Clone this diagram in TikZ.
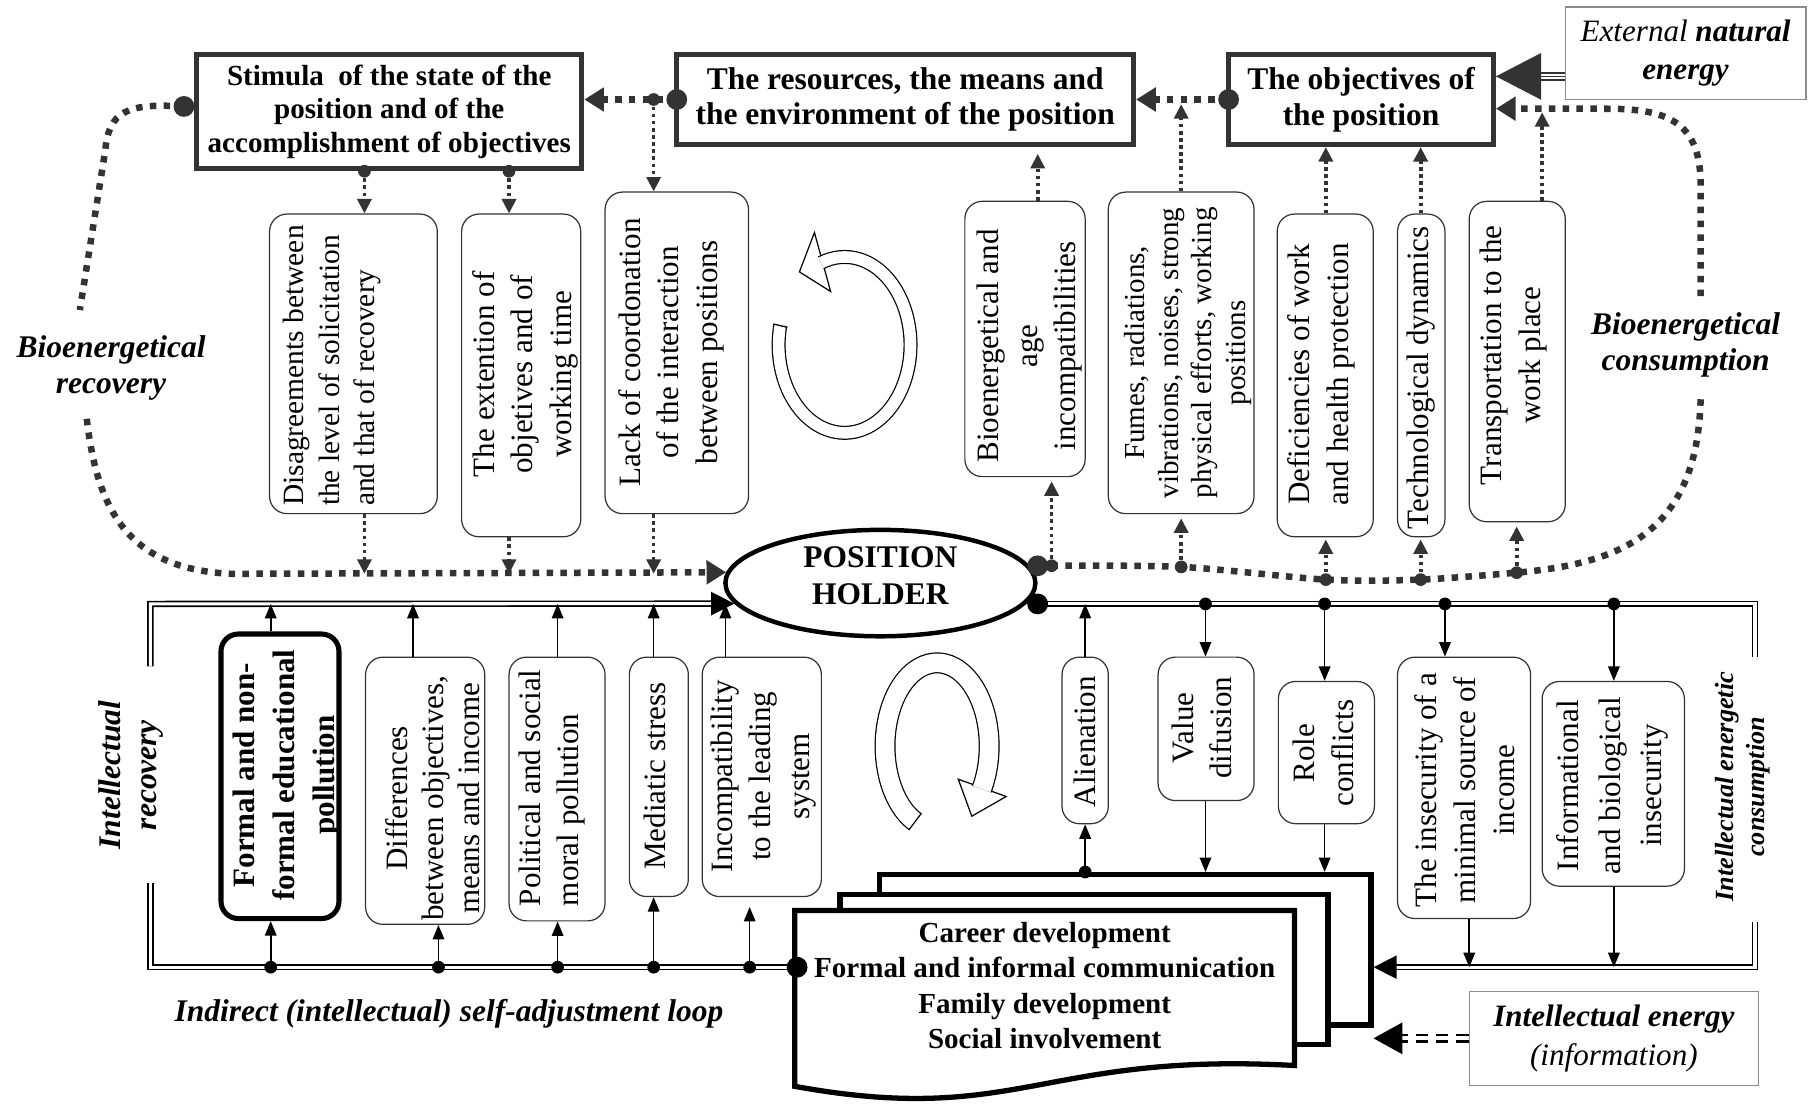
\documentclass[tikz,border=0pt]{standalone}
\usepackage{fontspec}
\setmainfont{Liberation Serif}
\usepackage{tikz}
\usepackage{xcolor}
\usetikzlibrary{calc, shapes.geometric, arrows.meta}

\definecolor{dgray}{HTML}{333333}
\definecolor{lgray}{HTML}{8C8C8C}

\begin{document}
\begin{tikzpicture}[x=0.02cm, y=-0.02cm,
    every node/.style={inner sep=0pt, font=\fontsize{15.3}{19}\selectfont},
    topbox/.style={
      draw=dgray,
      line width=2.4pt,
      align=center,
      font=\fontsize{15.5}{17.6}\selectfont\bfseries
    },
    vbox/.style={
      draw=dgray,
      line width=0.6pt,
      rounded corners=0.3cm
    },
    vtext/.style={rotate=90, align=center},
    lab/.style={align=center, font=\fontsize{15.5}{17.6}\selectfont\bfseries\itshape},
    bioline/.style={dgray, line width=3.2pt, dash pattern=on 3.2pt off 3.6pt},
    bioarrow/.style={bioline, -{Triangle[length=0.34cm, width=0.4cm]}},
    darrow/.style={dgray, line width=1.8pt, dash pattern=on 1.8pt off 1.7pt,
      -{Triangle[length=0.25cm, width=0.24cm]}},
    sarrow/.style={line width=0.8pt, -{Triangle[length=0.25cm, width=0.2cm]}},
    dline/.style={line width=0.8pt, double distance=1.5pt},
    bigarrow/.style={-{Triangle[length=0.4cm, width=0.4cm]}},
    docbox/.style={draw, fill=white, line width=2.6pt},
    ring/.style={line width=0.6pt, double distance=#1}]
  \useasboundingbox (0,0) rectangle (1568,954);

  \node[topbox, minimum width=6.66cm, minimum height=1.98cm,
    font=\fontsize{14.3}{16.4}\selectfont\bfseries] (stim) at (336.5,96.5)
    {Stimula~ of the state of the\\position and of the\\accomplishment of objectives};
  \node[topbox, minimum width=7.9cm, minimum height=1.56cm] (res) at (782.5,86)
    {The resources, the means and\\the environment of the position};
  \node[topbox, minimum width=4.58cm, minimum height=1.56cm] (obj) at (1176.5,86)
    {The objectives of\\the position};
  \node[draw=lgray, line width=0.6pt, minimum width=4.16cm, minimum height=1.6cm,
    align=center] (ext) at (1457,46)
    {\textit{External} \textbf{\textit{natural}}\\\textbf{\textit{energy}}};

  \node[vbox, minimum width=2.9cm, minimum height=5.18cm] (dis) at (305.5,314.5) {};
  \node[vtext, align=left, font=\fontsize{14.5}{17.4}\selectfont] (dist) at (287,316)
    {Disagreements between\\the level of solicitation\\and that of recovery};
  \node[vbox, minimum width=2.06cm, minimum height=5.58cm] (exto) at (450.5,324.5) {};
  \node[vtext] (extot) at (454,323.5) {The extention of\\objetives and of\\working time};
  \node[vbox, minimum width=2.48cm, minimum height=5.56cm] (lack) at (585,305) {};
  \node[vtext] (lackt) at (580,304.5)
    {Lack of coordonation\\of the interaction\\between positions};
  \node[vbox, minimum width=2.08cm, minimum height=4.76cm] (age) at (886,293) {};
  \node[vtext] (aget) at (890,299) {Bioenergetical and\\age\\incompatibilities};
  \node[vtext, font=\fontsize{14.3}{16.5}\selectfont] (fumt) at (1027,305)
    {Fumes, radiations,\\vibrations, noises, strong\\physical efforts, working\\positions};
  \node[vbox, minimum width=2.52cm, minimum height=5.56cm] (fum) at (1021,305) {};
  \node[vbox, minimum width=1.66cm, minimum height=5.58cm] (def) at (1145.5,324.5) {};
  \node[vtext] (deft) at (1142,323.5) {Deficiencies of work\\and health protection};
  \node[vbox, minimum width=0.82cm, minimum height=5.58cm] (tec) at (1228.5,324.5) {};
  \node[vtext] (tect) at (1228,326.5) {Technological dynamics};
  \node[vbox, minimum width=1.66cm, minimum height=5.54cm] (tra) at (1311.5,312.5) {};
  \node[vtext] (trat) at (1308,307) {Transportation to the\\work place};

  \node[ellipse, draw, line width=2.2pt, minimum width=5.36cm, minimum height=1.84cm]
    (hold) at (761,504) {};
  \node[align=center, font=\fontsize{15.5}{18.2}\selectfont\bfseries] (holdt)
    at (761,498) {POSITION\\HOLDER};

  \node[vtext, font=\fontsize{15.3}{19.8}\selectfont\bfseries] (lft) at (248,670)
    {Formal and non-\\formal educational\\pollution};
  \node[vbox, draw=black, line width=2.5pt, minimum width=2.04cm, minimum height=4.92cm]
    (lf) at (242,671) {};
  \node[vbox, minimum width=2.06cm, minimum height=4.62cm] (dif) at (367.5,683.5) {};
  \node[vtext, font=\fontsize{15.3}{17.6}\selectfont] (dift) at (374,690)
    {Differences\\between objectives,\\means and income};
  \node[vbox, minimum width=1.66cm, minimum height=4.56cm] (pol) at (481.5,682) {};
  \node[vtext, align=left] (polt) at (477,681) {Political and social\\moral pollution};
  \node[vbox, minimum width=1.02cm, minimum height=4.14cm] (med) at (569.5,671.5) {};
  \node[vtext] (medt) at (566,671) {Mediatic stress};
  \node[vbox, minimum width=2.06cm, minimum height=4.14cm] (inc) at (658.5,671.5) {};
  \node[vtext] (inct) at (660,671) {Incompatibility\\to the leading\\system};
  \node[vbox, minimum width=0.8cm, minimum height=2.88cm] (ali) at (938,640) {};
  \node[vtext] (alit) at (937.5,641) {Alienation};
  \node[vbox, minimum width=1.66cm, minimum height=2.48cm] (val) at (1042.5,630) {};
  \node[vtext] (valt) at (1039,629) {Value\\difusion};
  \node[vbox, minimum width=1.66cm, minimum height=2.46cm] (rol) at (1146.5,650.5) {};
  \node[vtext] (rolt) at (1144,651) {Role\\conflicts};
  \node[vbox, minimum width=2.3cm, minimum height=4.52cm] (ins) at (1265.5,681) {};
  \node[vtext] (inst) at (1266,683) {The insecurity of a\\minimal source of\\income};
  \node[vbox, minimum width=2.46cm, minimum height=3.54cm] (inf) at (1394.5,677.5) {};
  \node[vtext, font=\fontsize{15.3}{20.5}\selectfont] (inft) at (1394,679)
    {Informational\\and biological\\insecurity};

  \node[lab] (brec) at (96,318) {Bioenergetical\\recovery};
  \node[lab] (bcons) at (1457,298) {Bioenergetical\\consumption};
  \node[lab, rotate=90] (irec) at (113,670) {Intellectual\\recovery};
  \node[lab, rotate=90, font=\fontsize{12.9}{15.3}\selectfont\bfseries\itshape] (icons)
    at (1506,680) {Intellectual energetic\\consumption};
  \node[lab] (loop) at (388,876) {Indirect (intellectual) self-adjustment loop};
  \node[draw=lgray, line width=0.6pt, minimum width=5cm, minimum height=1.62cm,
    align=center] (ien) at (1395,897.5)
    {\textbf{\textit{Intellectual energy}}\\\textit{(information)}};

  \coordinate (sd) at (159,92);
  \coordinate (rd) at (585,86);
  \coordinate (od) at (1062,86);
  \coordinate (r0) at (565,86);
  \coordinate (s1) at (315,148);
  \coordinate (s2) at (440,148);
  \coordinate (bio) at (0,496);
  \coordinate (ea) at (0,66);
  \coordinate (t4) at (897,133);
  \coordinate (t5) at (1021,90);
  \coordinate (t8) at (1333,97);
  \coordinate (hd) at ([yshift=8.5pt]hold.east);
  \coordinate (d4) at (909,489);
  \coordinate (d5) at (1021,490);
  \coordinate (d6) at (1146,501);
  \coordinate (d7) at (1228,501);
  \coordinate (d8) at (1311,495);
  \coordinate (bl1) at (69,268);
  \coordinate (bl2) at (75,362);
  \coordinate (bc1) at (1470,256);
  \coordinate (bc2) at (1470,345);
  \coordinate (tl) at (130,522);
  \coordinate (tlg) at (130,576);
  \coordinate (bl) at (130,836);
  \coordinate (blg) at (130,763);
  \coordinate (tr) at (1517,522);
  \coordinate (trg) at (1517,568);
  \coordinate (br) at (1517,836);
  \coordinate (brg) at (1517,797);
  \coordinate (docl) at (689,836);
  \coordinate (hr) at (hold.east |- tl);
  \coordinate (c1) at (234,836);
  \coordinate (c2) at (379,836);
  \coordinate (c3) at (482,836);
  \coordinate (c4) at (565,836);
  \coordinate (c5) at (648,836);
  \coordinate (c5e) at (648,784);
  \coordinate (e2) at (357,522);
  \coordinate (e5) at (627,522);
  \coordinate (e6) at (938,522);
  \coordinate (p2) at (1042,522);
  \coordinate (p3) at (1145,522);
  \coordinate (p4) at (1249,522);
  \coordinate (p5) at (1395,522);
  \coordinate (q4) at (1270,836);

  \node[docbox, minimum width=8.5cm, minimum height=2.6cm] (doc3) at (972.5,821) {};
  \node[docbox, minimum width=8.44cm, minimum height=2.6cm] (doc2) at (937,838) {};
  \filldraw[fill=white, line width=2.6pt] (687,787) -- (1119,787) -- (1119,921)
    .. controls (900,909) and (880,974) .. (687,939) -- cycle;
  \node[align=center, font=\fontsize{14.3}{17.4}\selectfont\bfseries] (doct) at (903,852)
    {Career development\\Formal and informal communication\\Family development\\Social involvement};

  \draw[bioline] (sd) .. controls (110,89) and (94,96) .. (91,130) -- (bl1);
  \draw[bioarrow] (bl2) .. controls (84,440) and (110,492) .. (200,496) -- (hold.176);
  \draw[bioarrow] (bc1) -- (1470,160) .. controls (1470,108) and (1445,94) .. (1390,94)
    -- ([yshift=-4.5pt]obj.east);
  \draw[bioline] plot[smooth, tension=0.5] coordinates {(hd) (d5) (d6) (d7) (d8)}
    .. controls (1400,487) and (1467,462) .. (bc2);
  \draw[bioarrow] (od) -- (res.east);
  \draw[bioarrow] (rd) -- (stim.east |- rd);

  \draw[dgray, line width=1pt, double distance=2.4pt,
    -{Triangle[length=0.78cm, width=0.8cm]}] (ext.west |- ea) -- (obj.east |- ea);
  \draw[dgray, line width=0.8pt] (ext.west |- ea) -- (obj.east |- ea);

  \draw[darrow] (s1) -- (dis.north -| s1);
  \draw[darrow] (s2) -- (exto.north -| s2);
  \draw[darrow] (r0) -- (lack.north -| r0);
  \draw[darrow] (dis.south -| s1) -- (s1 |- bio);
  \draw[darrow] (exto.south -| s2) -- (s2 |- bio);
  \draw[darrow] (lack.south -| r0) -- (r0 |- bio);
  \draw[darrow] (age.north -| t4) -- (t4);
  \draw[darrow] (fum.north -| t5) -- (t5);
  \draw[darrow] (def.north -| d6) -- (obj.south -| d6);
  \draw[darrow] (tec.north -| d7) -- (obj.south -| d7);
  \draw[darrow] (tra.north -| t8) -- (t8);
  \draw[darrow, shorten >=2pt] (d4) -- (age.south -| d4);
  \draw[darrow, shorten >=2pt] (d5) -- (fum.south -| d5);
  \draw[darrow, shorten >=1pt] (d6) -- (def.south -| d6);
  \draw[darrow, shorten >=1pt] (d7) -- (tec.south -| d7);
  \draw[darrow, shorten >=2pt] (d8) -- (tra.south -| d8);

  \draw[dline, bigarrow] (tlg) -- (tl) -- (hold.188);
  \draw[dline] (blg) -- (bl) -- (docl);
  \draw[dline] (hr) -- (tr) -- (trg);
  \draw[dline, bigarrow] (brg) -- (br) -- (doc3.east |- br);
  \draw[line width=1.3pt, double distance=1.8pt, dash pattern=on 6pt off 4pt,
    -{Triangle[length=0.5cm, width=0.54cm]}] (ien.west) -- (doc3.east |- ien.west);

  \draw[sarrow] (lf.north -| c1) -- (c1 |- tl);
  \draw[sarrow] (c1) -- (lf.south -| c1);
  \draw[sarrow] (dif.north -| e2) -- (e2);
  \draw[sarrow] (c2) -- (dif.south -| c2);
  \draw[sarrow] (pol.north -| c3) -- (c3 |- tl);
  \draw[sarrow] (c3) -- (pol.south -| c3);
  \draw[sarrow] (med.north -| c4) -- (c4 |- tl);
  \draw[sarrow] (c4) -- (med.south -| c4);
  \draw[sarrow] (inc.north -| e5) -- (e5);
  \draw[sarrow] (c5) -- (c5e);
  \draw[sarrow] (ali.north) -- (e6);
  \draw[sarrow] (doc3.north -| e6) -- (ali.south);
  \draw[sarrow] (p2) -- (val.north -| p2);
  \draw[sarrow] (val.south -| p2) -- (doc3.north -| p2);
  \draw[sarrow] (p3) -- (rol.north -| p3);
  \draw[sarrow] (rol.south -| p3) -- (doc3.north -| p3);
  \draw[sarrow] (p4) -- (ins.north -| p4);
  \draw[sarrow] (ins.south -| q4) -- (q4);
  \draw[sarrow] (p5) -- (inf.north -| p5);
  \draw[sarrow] (inf.south -| p5) -- (p5 |- br);

  \foreach \p in {sd, rd, od, hd} \fill[dgray] (\p) circle[radius=0.18cm];
  \foreach \p in {s1, s2, r0, d4, d5, d6, d7, d8} \fill[dgray] (\p) circle[radius=0.11cm];
  \fill (hr) circle[radius=0.18cm];
  \fill (docl) circle[radius=0.18cm];
  \foreach \p in {c1, c2, c3, c4, c5, p2, p3, p4, p5} \fill (\p) circle[radius=0.11cm];
  \fill (doc3.north -| e6) circle[radius=0.11cm];

  \filldraw[fill=white, line width=0.6pt] (704,201) -- (691,235) -- (718,252) -- cycle;
  \draw[ring=0.2cm] (674.5,281) arc[start angle=-167, end angle=-471, x radius=57, y radius=76];
  \draw[line width=0.6pt] (668.5,280) -- (680.5,283);
  \filldraw[fill=white, line width=0.6pt] (828.3,673.5) -- (840,705.5) -- (869.7,688.5) -- cycle;
  \draw[ring=0.32cm] (791,710.2) arc[start angle=-245, end angle=31, x radius=45, y radius=72];
  \draw[line width=0.6pt] (785.6,717.4) -- (796.4,703);
\end{tikzpicture}
\end{document}
